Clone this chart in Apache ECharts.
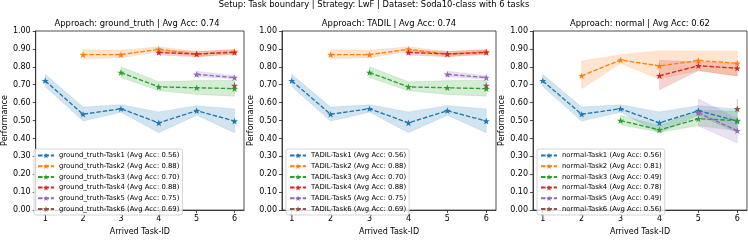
<!DOCTYPE html>
<html><head><meta charset="utf-8">
<script src="https://cdn.jsdelivr.net/npm/echarts@6/dist/echarts.min.js"></script>
<style>html,body{margin:0;padding:0;background:#fff}#c{width:748px;height:241px}</style>
</head><body><div id="c"></div><script>
// ---------- data ----------
const taskIds = [1, 2, 3, 4, 5, 6];
const xTickLabels = [1, 2, 3, 4, 5, 6];
const suptitle = 'Setup: Task boundary | Strategy: LwF | Dataset: Soda10-class with 6 tasks';
const approaches = ['ground_truth', 'TADIL', 'normal'];
const approachAvg = ['0.74', '0.74', '0.62'];

// task k is evaluated from arrived task k onwards
const gtMean = [
  [0.722, 0.535, 0.566, 0.487, 0.555, 0.497],
  [0.868, 0.868, 0.898, 0.870, 0.885],
  [0.768, 0.688, 0.683, 0.678],
  [0.880, 0.872, 0.880],
  [0.758, 0.740],
  [0.695]
];
const gtLow = [
  [0.690, 0.497, 0.547, 0.432, 0.530, 0.432],
  [0.845, 0.850, 0.885, 0.858, 0.872],
  [0.740, 0.666, 0.646, 0.636],
  [0.866, 0.856, 0.870],
  [0.745, 0.732],
  [0.680]
];
const gtHigh = [
  [0.758, 0.575, 0.588, 0.548, 0.583, 0.565],
  [0.896, 0.892, 0.912, 0.885, 0.897],
  [0.800, 0.716, 0.723, 0.725],
  [0.893, 0.886, 0.895],
  [0.775, 0.750],
  [0.712]
];
const gtTaskAvg = ['0.56', '0.88', '0.70', '0.88', '0.75', '0.69'];

const tadilMean = [
  [0.722, 0.535, 0.566, 0.487, 0.555, 0.497],
  [0.868, 0.868, 0.898, 0.870, 0.885],
  [0.768, 0.688, 0.683, 0.678],
  [0.880, 0.872, 0.880],
  [0.758, 0.740],
  [0.695]
];
const tadilLow = [
  [0.690, 0.497, 0.547, 0.432, 0.530, 0.432],
  [0.845, 0.850, 0.885, 0.858, 0.872],
  [0.740, 0.666, 0.646, 0.636],
  [0.866, 0.856, 0.870],
  [0.745, 0.732],
  [0.680]
];
const tadilHigh = [
  [0.758, 0.575, 0.588, 0.548, 0.583, 0.565],
  [0.896, 0.892, 0.912, 0.885, 0.897],
  [0.800, 0.716, 0.723, 0.725],
  [0.893, 0.886, 0.895],
  [0.775, 0.750],
  [0.712]
];
const tadilTaskAvg = ['0.56', '0.88', '0.70', '0.88', '0.75', '0.69'];

const normalMean = [
  [0.722, 0.535, 0.566, 0.487, 0.555, 0.497],
  [0.750, 0.838, 0.805, 0.835, 0.820],
  [0.500, 0.448, 0.510, 0.500],
  [0.750, 0.806, 0.792],
  [0.543, 0.443],
  [0.565]
];
const normalLow = [
  [0.690, 0.497, 0.547, 0.432, 0.530, 0.432],
  [0.678, 0.818, 0.732, 0.779, 0.750],
  [0.476, 0.435, 0.471, 0.444],
  [0.672, 0.779, 0.748],
  [0.470, 0.375],
  [0.545]
];
const normalHigh = [
  [0.758, 0.575, 0.588, 0.548, 0.583, 0.565],
  [0.832, 0.868, 0.890, 0.888, 0.888],
  [0.529, 0.472, 0.557, 0.552],
  [0.836, 0.827, 0.820],
  [0.620, 0.512],
  [0.620]
];
const normalTaskAvg = ['0.56', '0.81', '0.49', '0.78', '0.49', '0.56'];

// ---------- styling ----------
const colors = ['#1f77b4', '#ff7f0e', '#2ca02c', '#d62728', '#9467bd', '#8c564b'];
const FONT = 'DejaVu Sans';
const gridLefts = [30, 282, 533];
const gridTop = 31, gridW = 214, gridH = 189;
const STAR = 'path://M0,-10 L2.35,-3.24 L9.51,-3.09 L3.80,1.24 L5.88,8.09 L0,4 L-5.88,8.09 L-3.80,1.24 L-9.51,-3.09 L-2.35,-3.24 Z';

const panels = [
  {mean: gtMean, low: gtLow, high: gtHigh, avg: gtTaskAvg},
  {mean: tadilMean, low: tadilLow, high: tadilHigh, avg: tadilTaskAvg},
  {mean: normalMean, low: normalLow, high: normalHigh, avg: normalTaskAvg}
];

function hexA(hex, a) {
  const n = parseInt(hex.slice(1), 16);
  return 'rgba(' + (n >> 16) + ',' + ((n >> 8) & 255) + ',' + (n & 255) + ',' + a + ')';
}

const grids = [], xAxes = [], yAxes = [], titles = [], legends = [], series = [];
titles.push({text: suptitle, left: 374, top: 5, textAlign: 'center', textVerticalAlign: 'middle', padding: 0,
  textStyle: {fontFamily: FONT, fontSize: 8.4, fontWeight: 'normal', color: '#000'}});

panels.forEach((p, pi) => {
  grids.push({left: gridLefts[pi], top: gridTop, width: gridW, height: gridH, show: true,
    borderColor: '#222', borderWidth: 0.8, backgroundColor: 'transparent'});
  xAxes.push({gridIndex: pi, type: 'value', min: 0.75, max: 6.25,
    name: 'Arrived Task-ID', nameLocation: 'middle', nameGap: 13,
    nameTextStyle: {fontFamily: FONT, fontSize: 8, color: '#000'},
    axisLine: {show: true, onZero: false, lineStyle: {color: '#222', width: 0.8}},
    axisTick: {show: true, length: 3, customValues: xTickLabels, lineStyle: {color: '#222', width: 0.8}},
    axisLabel: {customValues: xTickLabels, margin: 5, fontFamily: FONT, fontSize: 8, color: '#000',
      formatter: v => String(v)},
    splitLine: {show: false}});
  yAxes.push({gridIndex: pi, type: 'value', min: 0, max: 1, interval: 0.1,
    name: 'Performance', nameLocation: 'middle', nameGap: 21.5,
    nameTextStyle: {fontFamily: FONT, fontSize: 8, color: '#000'},
    axisLine: {show: true, lineStyle: {color: '#222', width: 0.8}},
    axisTick: {show: true, length: 3, lineStyle: {color: '#222', width: 0.8}},
    axisLabel: {margin: 5, fontFamily: FONT, fontSize: 8, color: '#000', formatter: v => v.toFixed(2)},
    splitLine: {show: false}});
  titles.push({text: 'Approach: ' + approaches[pi] + ' | Avg Acc: ' + approachAvg[pi],
    left: gridLefts[pi] + gridW / 2, top: 24, textAlign: 'center', textVerticalAlign: 'middle', padding: 0,
    textStyle: {fontFamily: FONT, fontSize: 8.4, fontWeight: 'normal', color: '#000'}});

  const names = [];
  p.mean.forEach((m, ti) => {
    const xs = taskIds.slice(ti);
    const lo = p.low[ti], hi = p.high[ti];
    const col = colors[ti];
    const name = approaches[pi] + '-Task' + (ti + 1) + ' (Avg Acc: ' + p.avg[ti] + ')';
    names.push(name);
    // shaded band
    series.push({
      type: 'custom', name: 'band' + pi + '_' + ti, xAxisIndex: pi, yAxisIndex: pi, z: 1,
      silent: true, animation: false,
      data: xs.map((x, i) => [x, lo[i], hi[i]]),
      renderItem: function (params, api) {
        if (params.dataIndex !== 0) return null;
        if (xs.length === 1) {
          const a = api.coord([xs[0], hi[0]]), b = api.coord([xs[0], lo[0]]);
          return {type: 'line', shape: {x1: a[0], y1: a[1], x2: b[0], y2: b[1]},
            style: {stroke: hexA(col, 0.35), lineWidth: 1}};
        }
        const pts = [];
        for (let i = 0; i < xs.length; i++) pts.push(api.coord([xs[i], hi[i]]));
        for (let i = xs.length - 1; i >= 0; i--) pts.push(api.coord([xs[i], lo[i]]));
        return {type: 'polygon', shape: {points: pts},
          style: {fill: hexA(col, 0.2), stroke: hexA(col, 0.2), lineWidth: 0.6}};
      }
    });
    // mean line
    series.push({
      type: 'line', name: name, xAxisIndex: pi, yAxisIndex: pi, z: 2, animation: false,
      data: xs.map((x, i) => [x, m[i]]),
      symbol: STAR, symbolSize: 7, symbolKeepAspect: true, showSymbol: true,
      itemStyle: {color: col},
      lineStyle: {color: col, width: 1.35, type: [4.5, 1.9]}
    });
  });
  legends.push({
    data: names, orient: 'vertical', left: gridLefts[pi] + 4, top: 149,
    padding: [3, 3, 2.5, 3], itemGap: 3.7, itemWidth: 16, itemHeight: 7,
    backgroundColor: 'rgba(255,255,255,0.8)', borderColor: '#ccc', borderWidth: 0.8, borderRadius: 2,
    textStyle: {fontFamily: FONT, fontSize: 6.9, color: '#000'},
    selectedMode: false
  });
});

const chart = echarts.init(document.getElementById('c'), null, {renderer: 'canvas'});
chart.setOption({
  animation: false,
  backgroundColor: '#fff',
  title: titles,
  grid: grids,
  xAxis: xAxes,
  yAxis: yAxes,
  legend: legends,
  series: series
});
</script></body></html>
